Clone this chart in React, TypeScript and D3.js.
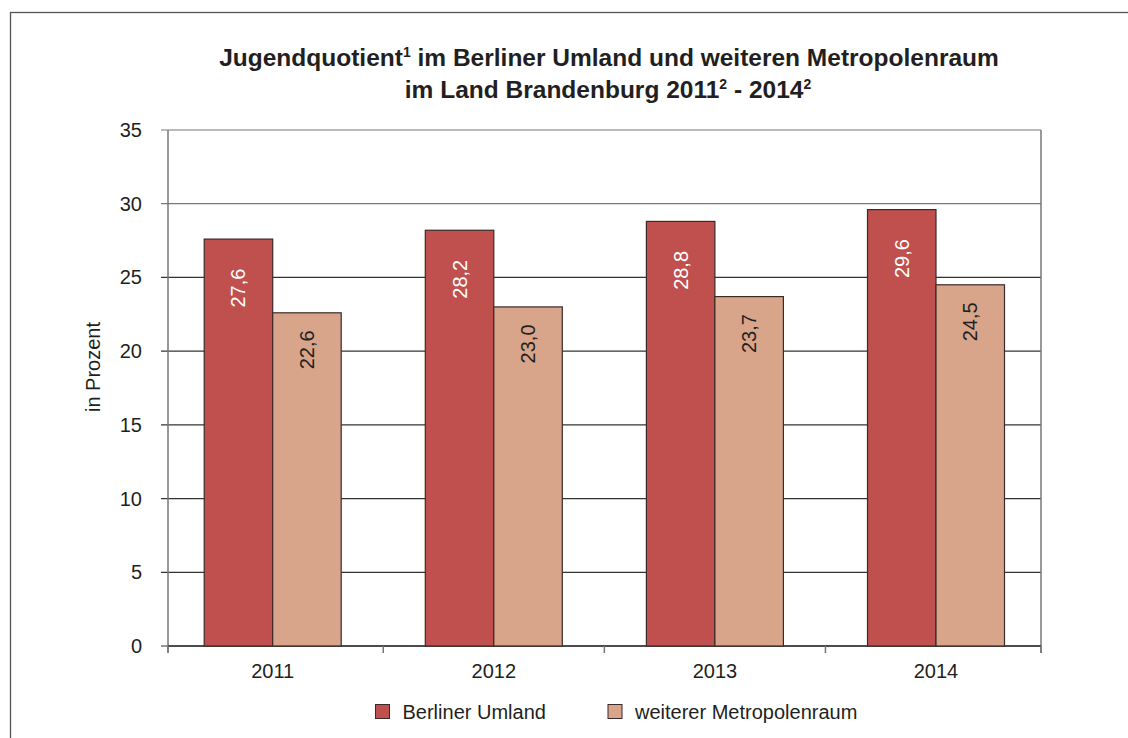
import React from "react";
import * as d3 from "d3";

const years = ["2011", "2012", "2013", "2014"];
const umland = [27.6, 28.2, 28.8, 29.6];
const metropol = [22.6, 23.0, 23.7, 24.5];
const seriesNames = ["Berliner Umland", "weiterer Metropolenraum"];
const yTicks = [0, 5, 10, 15, 20, 25, 30, 35];

const W = 1128;
const H = 738;
const font = "'Liberation Sans', Arial, sans-serif";
const colors = ["#c0504d", "#d8a48a"];

export default function App() {
  const left = 168, right = 1041, top = 130, bottom = 646;
  const y = d3.scaleLinear().domain([0, 35]).range([bottom, top]);
  const x = d3.scalePoint<string>().domain(years).range([272.7, 936]);
  const step = x.step();
  const barW = 68.5;
  const fmt = (v: number) => v.toFixed(1).replace(".", ",");
  const boundaries = [left, ...years.slice(1).map((yr) => (x(yr) as number) - step / 2), right];

  return (
    <svg width={W} height={H} style={{ position: "absolute", left: 0, top: 0 }} fontFamily={font}>
      <rect x={0} y={0} width={W} height={H} fill="#fff" />
      <rect x={10.5} y={12.5} width={W + 20} height={H + 20} fill="none" stroke="#555" strokeWidth={1.3} />
      <text x={609} y={66} textAnchor="middle" fontSize={24.5} fontWeight="bold" fill="#231f20">
        Jugendquotient<tspan fontSize={14} dy={-9}>1</tspan>
        <tspan dy={9}> im Berliner Umland und weiteren Metropolenraum</tspan>
      </text>
      <text x={608} y={98} textAnchor="middle" fontSize={24.5} fontWeight="bold" fill="#231f20">
        im Land Brandenburg 2011<tspan fontSize={14} dy={-9}>2</tspan>
        <tspan dy={9}> - 2014</tspan>
        <tspan fontSize={14} dy={-9}>2</tspan>
      </text>
      {yTicks.map((t) => (
        <g key={t}>
          <line x1={left - 7} x2={right} y1={y(t)} y2={y(t)} stroke={t >= 30 ? "#777" : "#333"} strokeWidth={1.2} />
          <text x={142} y={y(t) + 7} textAnchor="end" fontSize={20} fill="#231f20">{t}</text>
        </g>
      ))}
      <line x1={left} x2={left} y1={top} y2={bottom + 7} stroke="#777" strokeWidth={1.5} />
      <line x1={right} x2={right} y1={top} y2={bottom + 7} stroke="#777" strokeWidth={1.5} />
      <line x1={left} x2={right} y1={bottom} y2={bottom} stroke="#333" strokeWidth={1.5} />
      {boundaries.map((b, i) => (
        <line key={i} x1={b} x2={b} y1={bottom} y2={bottom + 7} stroke="#777" strokeWidth={1.5} />
      ))}
      {years.map((yr, i) => {
        const cx = x(yr) as number;
        const vals = [umland[i], metropol[i]];
        return (
          <g key={yr}>
            {vals.map((v, j) => {
              const bx = cx - barW + j * barW;
              const by = y(v);
              const ly = by + (j === 0 ? 49 : 37);
              const lx = bx + barW / 2;
              return (
                <g key={j}>
                  <rect x={bx} y={by} width={barW} height={bottom - by} fill={colors[j]} stroke="#3a2a2a" strokeWidth={1.2} />
                  <text
                    transform={`translate(${lx + 7},${ly}) rotate(-90)`}
                    textAnchor="middle"
                    fontSize={20}
                    fill={j === 0 ? "#fff" : "#231f20"}
                  >
                    {fmt(v)}
                  </text>
                </g>
              );
            })}
            <text x={cx} y={678} textAnchor="middle" fontSize={20} fill="#231f20">{yr}</text>
          </g>
        );
      })}
      <text transform={`translate(100,367) rotate(-90)`} textAnchor="middle" fontSize={20} fill="#231f20">in Prozent</text>
      {seriesNames.map((n, j) => {
        const lx = j === 0 ? 375.5 : 608;
        return (
          <g key={n}>
            <rect x={lx} y={704.5} width={14} height={14} fill={colors[j]} stroke="#3a2a2a" strokeWidth={1} />
            <text x={lx + 27} y={719} fontSize={20} fill="#231f20">{n}</text>
          </g>
        );
      })}
    </svg>
  );
}
